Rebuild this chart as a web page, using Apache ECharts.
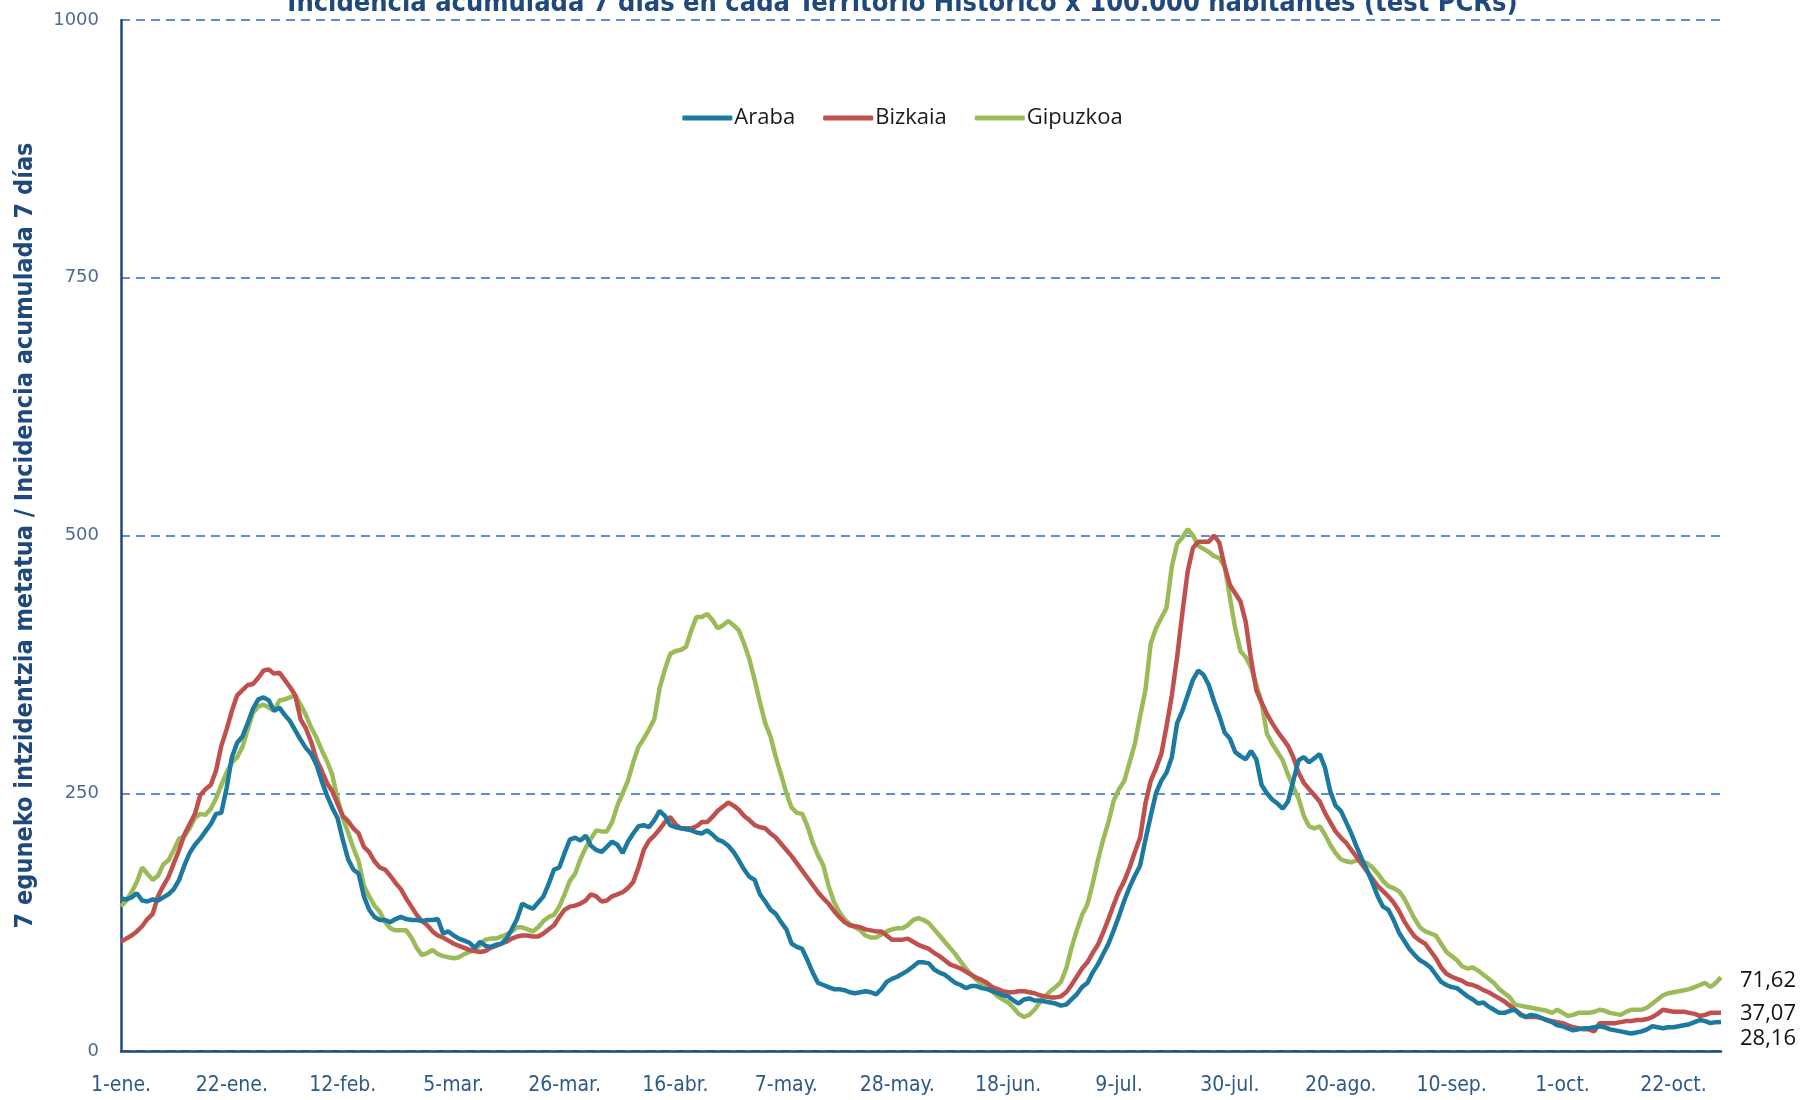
<!DOCTYPE html>
<html>
<head>
<meta charset="utf-8">
<script src="https://cdn.jsdelivr.net/npm/echarts@6/dist/echarts.min.js"></script>
<style>
html,body{margin:0;padding:0;background:#fff;}
#chart{width:1805px;height:1100px;}
</style>
</head>
<body>
<div id="chart"></div>
<script>
// ---- Data ----
const monthNames = ['ene.','feb.','mar.','abr.','may.','jun.','jul.','ago.','sep.','oct.','nov.','dic.'];
const monthDays = [31,28,31,30,31,30,31,31,30,31,30,31];
const nDays = 304; // 1-ene. .. 31-oct.
const tickLabels = ['1-ene.','22-ene.','12-feb.','5-mar.','26-mar.','16-abr.','7-may.','28-may.','18-jun.','9-jul.','30-jul.','20-ago.','10-sep.','1-oct.','22-oct.'];
const seriesNames = ['Araba','Bizkaia','Gipuzkoa'];

const araba = [
148,147,149,153,146,145,147,146,149,152,
157,166,180,192,200,206,213,220,230,231,
255,285,299,305,318,332,341,343,340,330,
333,326,320,311,302,294,288,278,262,248,
236,226,205,186,176,172,150,137,130,127,
127,125,128,130,128,127,127,126,127,127,
128,114,116,112,109,107,105,100,106,102,
101,103,104,109,118,128,143,140,138,144,
150,162,176,178,192,205,207,204,209,199,
195,193,198,203,200,192,203,211,218,219,
217,224,233,228,219,217,216,215,214,212,
211,214,210,205,203,199,193,185,176,169,
166,152,145,137,133,125,118,104,101,99,
88,76,66,64,62,60,60,59,57,56,
57,58,57,55,60,67,70,72,75,78,
82,86,86,85,79,76,74,70,66,64,
61,63,63,61,60,58,56,54,53,49,
46,50,51,49,49,48,47,46,44,45,
50,55,62,66,76,84,94,104,117,131,
146,159,170,180,205,228,250,262,270,285,
318,330,345,360,369,365,355,339,325,309,
303,290,286,283,291,283,258,250,244,240,
235,242,262,282,285,280,284,288,275,252,
238,233,222,211,198,186,175,163,150,140,
137,127,115,107,99,93,88,85,81,74,
67,64,62,61,57,53,50,46,47,43,
40,37,37,39,40,35,33,35,34,32,
30,28,25,24,22,20,21,22,22,23,
24,23,21,20,19,18,17,18,19,21,
24,23,22,23,23,24,25,26,28,30,
29,27,28,28.16
];

const bizkaia = [
106,109,112,116,121,128,133,150,160,169,
182,195,210,220,230,248,254,258,272,296,
312,330,345,350,355,356,362,369,370,366,
367,360,353,345,322,313,300,283,272,260,
252,240,228,223,216,211,198,193,184,178,
176,170,163,157,148,140,132,126,122,116,
112,110,107,104,102,100,98,97,96,97,
100,102,104,106,109,111,112,112,111,111,
114,118,122,130,137,140,141,143,146,152,
150,145,146,150,152,154,158,164,178,195,
204,209,215,222,227,220,216,216,216,218,
222,222,227,233,237,241,238,234,228,224,
219,217,216,211,207,201,195,189,182,175,
168,161,154,148,143,136,130,125,122,121,
120,118,117,116,116,112,108,108,108,109,
106,103,101,99,95,92,88,84,82,80,
77,74,71,69,66,62,60,58,57,57,
58,58,57,56,54,53,52,52,53,57,
64,72,80,86,95,103,115,128,142,155,
165,178,193,207,240,262,274,288,315,345,
382,425,465,488,494,494,494,500,493,470,
452,444,436,416,380,350,338,327,318,310,
303,296,285,270,260,254,248,242,231,222,
213,207,202,195,188,181,174,167,160,155,
150,144,136,126,118,111,107,104,97,90,
81,75,72,70,68,65,64,62,59,57,
54,51,48,44,40,36,33,33,33,32,
30,29,28,27,25,23,22,21,21,19,
27,27,27,27,28,29,29,30,30,31,
33,36,40,39,38,38,38,37,36,34,
35,37,37,37.07
];

const gipuzkoa = [
140,146,154,164,178,172,166,170,181,185,
195,206,208,216,226,230,229,235,245,258,
270,280,285,295,312,328,334,336,333,330,
340,341,343,345,336,326,314,304,292,281,
268,245,226,212,197,184,160,150,141,135,
125,119,117,117,117,110,100,93,95,98,
94,92,91,90,91,94,96,98,103,108,
109,109,111,113,116,120,120,118,116,120,
126,130,132,140,152,165,172,186,197,206,
214,213,213,222,238,250,262,280,295,303,
312,322,352,370,385,388,389,392,408,421,
421,424,418,410,413,417,413,408,395,380,
360,338,318,305,285,268,250,236,231,230,
218,202,190,180,160,145,135,128,123,120,
117,112,110,110,113,116,118,119,119,122,
127,129,127,124,118,112,106,100,94,87,
80,74,69,65,62,58,53,50,47,42,
36,33,35,40,47,53,58,62,67,80,
100,117,132,142,162,185,205,222,243,254,
262,280,298,325,350,395,410,420,430,470,
492,498,506,500,490,487,484,480,478,470,
440,410,388,382,372,355,338,308,298,290,
282,268,256,245,228,218,216,218,210,200,
192,186,184,183,185,184,182,178,172,165,
160,158,155,148,138,128,120,116,114,112,
104,96,92,88,82,80,81,78,74,70,
66,60,56,52,45,44,43,42,41,40,
39,37,40,37,34,35,37,37,37,38,
40,39,37,36,35,38,40,40,40,42,
46,50,54,56,57,58,59,60,62,64,
66,62,66,71.62
];

// ---- Build day categories ----
const days = [];
(function(){
  let m = 0, d = 1;
  for (let i = 0; i < nDays; i++) {
    days.push(d + '-' + monthNames[m]);
    d++;
    if (d > monthDays[m]) { d = 1; m++; }
  }
})();

const colors = ['#1c7aa0', '#c0504d', '#9bbb59'];
const endOffsets = [[19, 17], [19, 1], [19, 4]];
const dataSets = [araba, bizkaia, gipuzkoa];

const chart = echarts.init(document.getElementById('chart'), null, {renderer: 'canvas'});
const narrow = '"Liberation Sans Narrow", "DejaVu Sans Condensed", "Liberation Sans", sans-serif';

chart.setOption({
  animation: false,
  backgroundColor: '#ffffff',
  title: {
    text: 'Incidencia acumulada 7 días en cada Territorio Histórico x 100.000 habitantes (test PCRs)',
    left: 'center',
    top: -15,
    textStyle: {fontFamily: narrow, fontWeight: 'bold', fontSize: 27, color: '#1f497d'}
  },
  legend: {
    data: seriesNames,
    left: 'center',
    top: 102,
    itemWidth: 50,
    itemHeight: 5,
    itemGap: 28,
    icon: 'roundRect',
    textStyle: {fontFamily: '"Open Sans", "Noto Sans", sans-serif', fontSize: 22, color: '#1a1a1a', padding: [0,0,0,-3]}
  },
  grid: {left: 121, right: 84, top: 20, bottom: 49, containLabel: false},
  xAxis: {
    type: 'category',
    data: days,
    boundaryGap: false,
    axisLine: {show: true, lineStyle: {color: '#1f497d', width: 2.5}},
    axisTick: {show: false},
    splitLine: {show: false},
    axisLabel: {
      interval: function (i) { return i % 21 === 0; },
      formatter: function (v, i) { return tickLabels[Math.round(i / 21)] || v; },
      fontFamily: narrow, fontSize: 21, color: '#2e5a8a', margin: 24
    }
  },
  yAxis: {
    type: 'value',
    min: 0, max: 1000, interval: 250,
    name: '7 eguneko intzidentzia metatua / Incidencia acumulada 7 días',
    nameLocation: 'middle',
    nameRotate: 90,
    nameGap: 83,
    nameTextStyle: {fontFamily: narrow, fontWeight: 'bold', fontSize: 25, color: '#1f497d'},
    axisLine: {show: true, lineStyle: {color: '#1f497d', width: 2.5}},
    axisTick: {show: false},
    axisLabel: {
      formatter: function (v) { return String(v); },
      fontFamily: '"DejaVu Sans", sans-serif', fontSize: 18, color: '#4f6a94', margin: 22
    },
    splitLine: {show: true, lineStyle: {color: '#5b8ed8', width: 2, type: [9, 6]}}
  },
  series: seriesNames.map(function (name, k) {
    return {
      name: name,
      type: 'line',
      data: dataSets[k],
      showSymbol: false,
      symbol: 'none',
      lineStyle: {color: colors[k], width: 4.5},
      itemStyle: {color: colors[k]},
      z: k === 2 ? 3 : (k === 1 ? 4 : 5),
      endLabel: {
        show: true,
        formatter: function (p) { return Number(p.value).toFixed(2).replace('.', ','); },
        fontFamily: '"Open Sans", "Noto Sans", sans-serif',
        fontSize: 22,
        color: '#111',
        offset: endOffsets[k],
        distance: 0
      }
    };
  })
});
</script>
</body>
</html>
